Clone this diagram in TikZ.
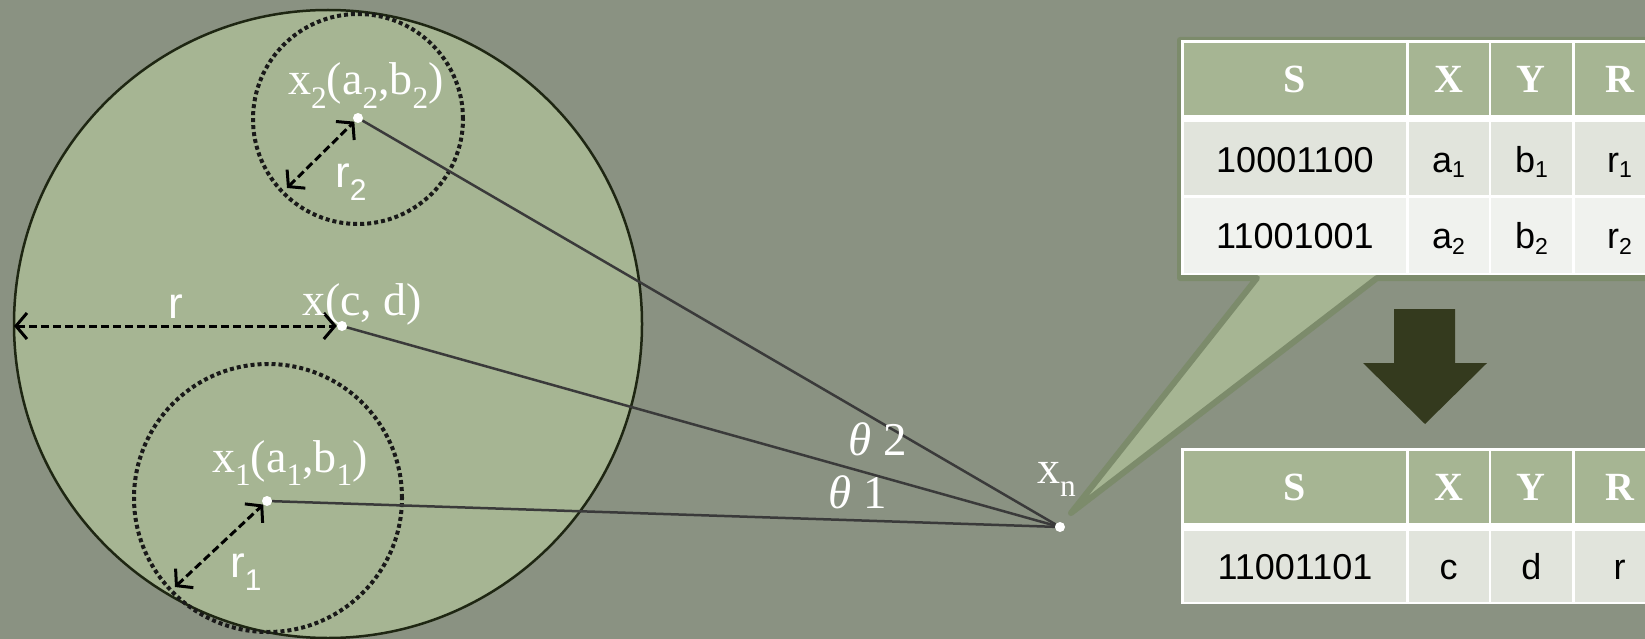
\documentclass[tikz,border=0pt]{standalone}
\usepackage{fontspec}
\setmainfont{Liberation Serif}
\setsansfont{Liberation Sans}
\usetikzlibrary{arrows.meta}
\definecolor{bgray}{HTML}{8A9282}
\definecolor{sage}{HTML}{A6B593}
\definecolor{sagedark}{HTML}{7C8B6B}
\definecolor{rimdark}{HTML}{1E2612}
\definecolor{rowa}{HTML}{E1E4DC}
\definecolor{rowb}{HTML}{F0F2EE}
\definecolor{olivedark}{HTML}{343A1E}
\definecolor{raygray}{HTML}{3A3A3A}
\newcommand{\lo}[1]{\raisebox{-.3em}{\scalebox{.68}{#1}}}
\newcommand{\tlo}[1]{\raisebox{-.15em}{\scalebox{.64}{#1}}}
\begin{document}
\begin{tikzpicture}[x=1pt,y=-1pt,
    spot/.style={circle,fill=white,inner sep=0pt,minimum size=10pt},
    ray/.style={draw=raygray,line width=2.5pt},
    ring/.style={draw=black!90,line width=4pt,dash pattern=on 4pt off 3pt},
    rad/.style={{Straight Barb[length=11pt,width=26pt]}-{Straight Barb[length=11pt,width=26pt]},line width=3pt,dash pattern=on 8pt off 4pt},
    lbl/.style={text=white,inner sep=0pt,anchor=base west,font=\fontsize{46}{50}\selectfont},
    slbl/.style={lbl,font=\sffamily\fontsize{44}{50}\selectfont},
    hcell/.style={fill=sage,text=white,inner sep=0pt,anchor=north west,text height=27pt,text depth=0pt,font=\bfseries\fontsize{40}{44}\selectfont},
    cell/.style={inner sep=0pt,anchor=north west,text height=27pt,text depth=0pt,font=\sffamily\fontsize{36}{40}\selectfont}]
  \useasboundingbox (0,0) rectangle (1645,639);
  \fill[bgray] (0,0) rectangle (1645,639);
  \filldraw[fill=sage,draw=rimdark,line width=2.5pt] (328,324) circle (314pt);
  \draw[ring] (358,119) circle (105pt);
  \draw[ring] (268,498) circle (134pt);
  \node[spot] (pn) at (1060,527) {};
  \node[spot] (p2) at (358,118) {};
  \node[spot] (pc) at (342,326) {};
  \node[spot] (p1) at (267,501) {};
  \draw[ray] (pn) -- (p2);
  \draw[ray] (pn) -- (pc);
  \draw[ray] (pn) -- (p1);
  \coordinate (e2) at (287,188);
  \coordinate (ec) at (14,326);
  \coordinate (e1) at (175,587);
  \draw[rad] (e2) -- (p2);
  \draw[rad] (ec) -- (pc);
  \draw[rad] (e1) -- (p1);
  \node[lbl] (lx2) at (288,95) {x\lo{2}(a\lo{2},b\lo{2})};
  \node[lbl] (lxc) at (302,315) {x(c, d)};
  \node[lbl] (lx1) at (212,472) {x\lo{1}(a\lo{1},b\lo{1})};
  \node[lbl,font=\fontsize{47}{50}\selectfont] (lt2) at (848,455) {{\itshape θ} 2};
  \node[lbl,font=\fontsize{47}{50}\selectfont] (lt1) at (828,508) {{\itshape θ} 1};
  \node[lbl] (lxn) at (1037,483) {x\lo{n}};
  \node[slbl] (lr2) at (335,187) {r\lo{2}};
  \node[slbl] (lr) at (168,318) {r};
  \node[slbl] (lr1) at (230,577) {r\lo{1}};
  \filldraw[fill=sage,draw=sagedark,line width=6pt,line join=round]
    (1180,40) -- (1665,40) -- (1665,278) -- (1377,278) -- (1071,513)
    -- (1257,278) -- (1180,278) -- cycle;
  \fill[white] (1181,40.5) rectangle (1660,274.5);
  \foreach \cx/\cw/\hd/\ca/\cb in {1184/221.5/S/10001100/11001001,
      1408.3/80/X/a\tlo{1}/a\tlo{2}, 1490.7/81/Y/b\tlo{1}/b\tlo{2},
      1574.3/90/R/r\tlo{1}/r\tlo{2}}{
    \node[hcell,minimum width=\cw pt,minimum height=72.3pt] (h\hd) at (\cx,42.7) {\hd};
    \node[cell,fill=rowa,minimum width=\cw pt,minimum height=73.3pt] (u\hd) at (\cx,121.7) {\ca};
    \node[cell,fill=rowb,minimum width=\cw pt,minimum height=75.4pt] (v\hd) at (\cx,197.3) {\cb};
  }
  \fill[olivedark] (1394,309) -- (1455,309) -- (1455,363) -- (1487,363)
    -- (1425,424) -- (1363,363) -- (1394,363) -- cycle;
  \fill[white] (1181,448) rectangle (1660,603.5);
  \foreach \cx/\cw/\hd/\ca in {1184/221.5/S/11001101, 1408.3/80/X/c,
      1490.7/81/Y/d, 1574.3/90/R/r}{
    \node[hcell,minimum width=\cw pt,minimum height=72pt] (g\hd) at (\cx,450.7) {\hd};
    \node[cell,fill=rowa,minimum width=\cw pt,minimum height=71pt] (w\hd) at (\cx,530.7) {\ca};
  }
\end{tikzpicture}
\end{document}
